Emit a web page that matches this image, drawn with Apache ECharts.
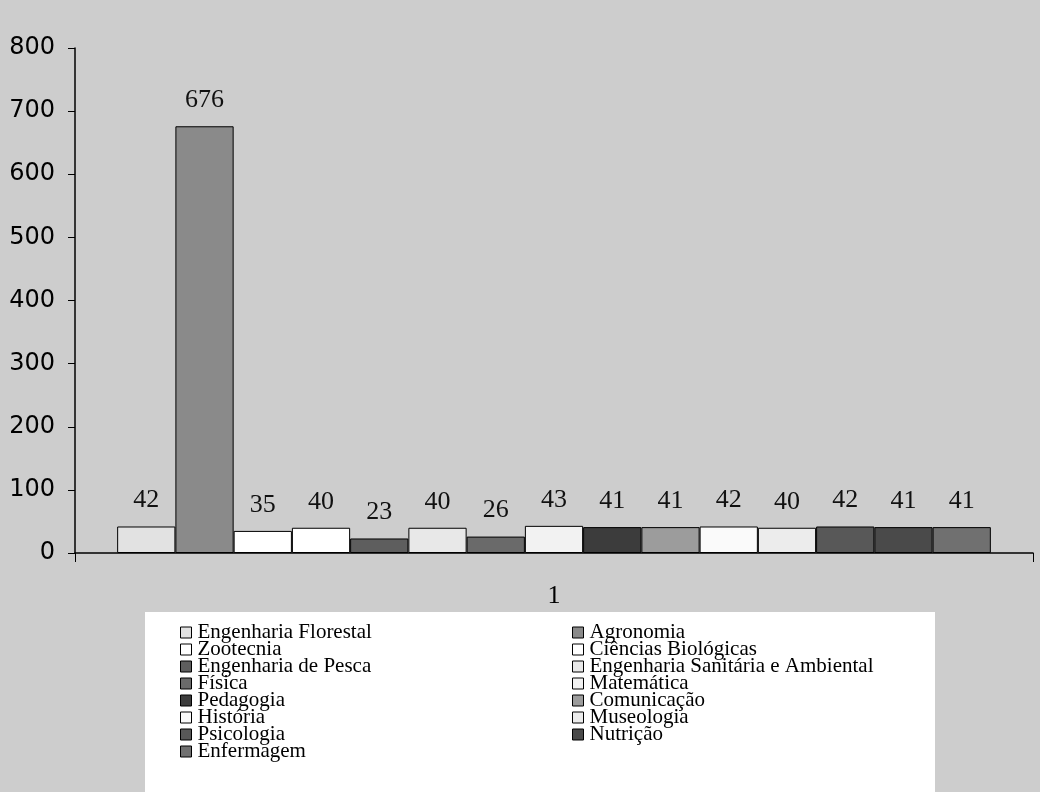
<!DOCTYPE html>
<html>
<head>
<meta charset="utf-8">
<script src="https://cdn.jsdelivr.net/npm/echarts@6/dist/echarts.min.js"></script>
<style>html,body{margin:0;padding:0;background:#cdcdcd;}#c{width:1040px;height:792px;}</style>
</head>
<body>
<div id="c"></div>
<script>
const categories = ['1'];
const seriesNames = ['Engenharia Florestal','Agronomia','Zootecnia','Ciências Biológicas','Engenharia de Pesca','Engenharia Sanitária e Ambiental','Física','Matemática','Pedagogia','Comunicação','História','Museologia','Psicologia','Nutrição','Enfermagem'];
const seriesValues = [42, 676, 35, 40, 23, 40, 26, 43, 41, 41, 42, 40, 42, 41, 41];
const yTicks = [0, 100, 200, 300, 400, 500, 600, 700, 800];
const barColors = ['#e2e2e2','#8a8a8a','#ffffff','#ffffff','#5e5e5e','#e8e8e8','#6a6a6a','#f2f2f2','#3c3c3c','#9c9c9c','#fafafa','#ececec','#585858','#4a4a4a','#707070'];

const chart = echarts.init(document.getElementById('c'));
const serif = '"Liberation Serif", "DejaVu Serif", serif';
const series = seriesNames.map((n, i) => ({
  name: n,
  type: 'bar',
  data: [seriesValues[i]],
  barGap: '0%',
  barCategoryGap: '8.8%',
  itemStyle: { color: barColors[i], borderColor: '#000', borderWidth: 1 },
  label: { show: true, position: 'top', distance: 13, color: '#111', fontFamily: serif, fontSize: 26 }
}));
const leftNames = seriesNames.filter((_, i) => i % 2 === 0);
const rightNames = seriesNames.filter((_, i) => i % 2 === 1);
const legendCommon = {
  orient: 'vertical', top: 622, itemWidth: 11, itemHeight: 11, itemGap: -4, icon: 'rect',
  itemStyle: { borderColor: '#000', borderWidth: 1 },
  textStyle: { fontFamily: serif, fontSize: 21, color: '#000', lineHeight: 16, padding: [0,0,0,1] },
  padding: 0
};
chart.setOption({
  backgroundColor: '#cdcdcd',
  animation: false,
  graphic: [{ type: 'rect', left: 145, top: 612, shape: { width: 790, height: 180 }, style: { fill: '#ffffff' }, z: -1 }],
  legend: [
    Object.assign({}, legendCommon, { left: 180, data: leftNames }),
    Object.assign({}, legendCommon, { left: 572, data: rightNames })
  ],
  grid: { left: 75, right: 7, top: 48, bottom: 239 },
  xAxis: {
    type: 'category', data: categories,
    axisLine: { lineStyle: { color: '#000', width: 1.5 } },
    axisTick: { show: true, length: 9, lineStyle: { color: '#000' } },
    axisLabel: { color: '#000', fontFamily: serif, fontSize: 26, margin: 30 }
  },
  yAxis: {
    type: 'value', min: yTicks[0], max: yTicks[yTicks.length - 1], interval: 100,
    axisLine: { show: true, lineStyle: { color: '#000', width: 1.5 } },
    axisTick: { show: true, length: 7, lineStyle: { color: '#000' } },
    splitLine: { show: false },
    axisLabel: { color: '#000', fontFamily: '"DejaVu Sans", sans-serif', fontSize: 24, margin: 20 }
  },
  series: series
});
</script>
</body>
</html>
